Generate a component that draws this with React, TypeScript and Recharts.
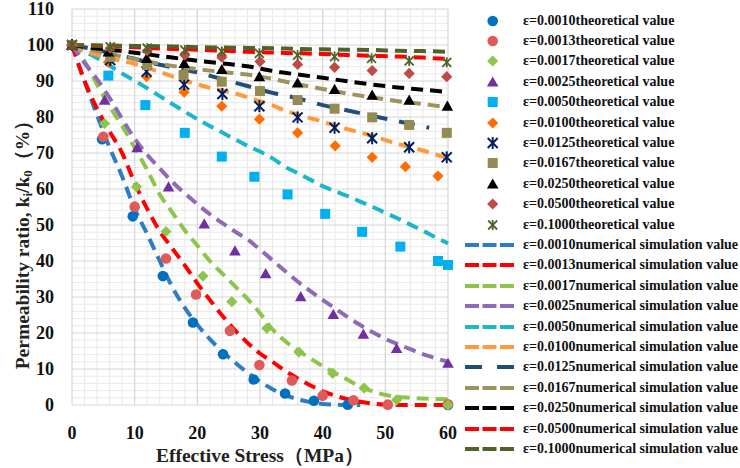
import React from 'react';
import { CartesianGrid, ComposedChart, Line, Scatter, XAxis, YAxis } from 'recharts';

const FONT = 'Liberation Serif';

const xTicks = [0, 10, 20, 30, 40, 50, 60];
const yTicks = [0, 10, 20, 30, 40, 50, 60, 70, 80, 90, 100, 110];
const minorX = [2, 4, 6, 8, 12, 14, 16, 18, 22, 24, 26, 28, 32, 34, 36, 38, 42, 44, 46, 48, 52, 54, 56, 58];
const minorY = [
  2, 4, 6, 8, 12, 14, 16, 18, 22, 24, 26, 28, 32, 34, 36, 38, 42, 44, 46, 48, 52, 54, 56, 58,
  62, 64, 66, 68, 72, 74, 76, 78, 82, 84, 86, 88, 92, 94, 96, 98, 102, 104, 106, 108,
];

const strains = ['0.0010', '0.0013', '0.0017', '0.0025', '0.0050', '0.0100', '0.0125', '0.0167', '0.0250', '0.0500', '0.1000'];

// theoretical values (markers)
const t0010X = [0, 4.8, 9.7, 14.5, 19.3, 24.1, 29.0, 34.0, 38.6, 44.0, 60];
const t0010Y = [100, 73.8, 52.4, 35.8, 22.9, 14.1, 7.1, 3.2, 1.2, 0.1, 0];
const t0013X = [0, 5.0, 10.0, 15.0, 19.8, 25.2, 29.9, 35.1, 40.0, 44.9, 50.4, 60];
const t0013Y = [100, 74.5, 55.1, 40.7, 30.7, 20.6, 11.1, 6.8, 2.6, 1.3, 0.1, 0.2];
const t0017X = [0, 5.2, 10.3, 15.0, 20.9, 25.5, 31.1, 36.2, 41.6, 46.6, 51.8, 60];
const t0017Y = [100, 78.2, 60.6, 48.2, 35.8, 28.7, 21.3, 14.7, 8.8, 4.7, 1.4, 0];
const t0025X = [0, 5.2, 10.4, 15.4, 21.1, 26.0, 30.9, 36.5, 41.7, 46.5, 51.8, 60];
const t0025Y = [100, 84.7, 71.5, 60.6, 50.3, 42.8, 36.5, 30.1, 25.2, 19.7, 15.7, 11.6];
const t0050X = [0, 5.8, 11.7, 18.0, 23.9, 29.1, 34.4, 40.4, 46.3, 52.4, 58.4, 60];
const t0050Y = [100, 91.5, 83.3, 75.6, 69.0, 63.4, 58.5, 53.1, 48.1, 44.0, 40.0, 38.9];
const t0100X = [0, 5.8, 11.9, 17.9, 23.9, 29.9, 36.0, 42.0, 47.9, 53.2, 58.4];
const t0100Y = [100, 95.2, 91.2, 86.9, 83.0, 79.4, 75.6, 72.0, 68.8, 66.2, 63.6];
const t0125X = [0, 6.1, 11.9, 17.9, 24.0, 29.9, 36.0, 41.9, 47.9, 53.8, 59.8];
const t0125Y = [100, 95.8, 92.6, 89.0, 86.4, 83.0, 79.9, 77.0, 74.1, 71.6, 68.8];
const t0167X = [0, 6.1, 12.0, 17.8, 23.9, 30.0, 36.0, 41.9, 47.9, 53.8, 59.8];
const t0167Y = [100, 96.7, 94.4, 91.7, 89.8, 87.2, 84.7, 82.3, 79.9, 77.8, 75.6];
const t0250X = [0, 5.8, 11.9, 17.9, 23.9, 29.9, 36.0, 41.9, 47.9, 53.8, 59.9];
const t0250Y = [100, 98.1, 96.3, 94.9, 93.2, 91.2, 89.5, 87.7, 86.1, 84.7, 83.0];
const t0500X = [0, 6.1, 12.0, 18.0, 23.9, 30.0, 36.0, 41.9, 47.9, 53.8, 59.8];
const t0500Y = [100, 99.1, 98.4, 97.2, 96.6, 95.4, 94.6, 93.8, 92.9, 92.1, 91.2];
const t1000X = [0, 6.1, 12.0, 18.0, 23.9, 29.9, 36.0, 41.9, 47.8, 53.8, 59.8];
const t1000Y = [100, 99.5, 99.1, 98.6, 98.2, 97.7, 97.2, 96.8, 96.3, 95.6, 95.2];

// numerical simulation values (dashed curves)
const simX2 = [0, 2, 4, 6, 8, 10, 12, 14, 16, 18, 20, 22, 24, 26, 28, 30, 32, 34, 36, 38, 40, 42, 44, 46, 48, 50, 52, 54, 56, 58, 60];
const simX4 = [0, 4, 8, 12, 16, 20, 24, 28, 32, 36, 40, 44, 48, 52, 56, 60];
const s0010Y = [100, 90, 80.5, 71.5, 63.5, 54.5, 47.5, 40, 32.8, 27, 22.3, 18.3, 14.8, 11.8, 9, 6.5, 4.4, 2.8, 1.6, 0.8, 0.3, 0.1, 0, 0];
const s0013Y = [100, 90, 82.3, 76, 70, 61.7, 54.5, 48.3, 43.5, 38.8, 33.8, 29.2, 24.8, 20.8, 17.3, 14.3, 12, 9.5, 7.4, 5.5, 3.8, 2.6, 1.6, 0.9, 0.4, 0.1, 0, 0, 0, 0, 0];
const s0017Y = [100, 95.5, 89, 83, 77.5, 71.5, 65.3, 58.5, 53.5, 48.5, 44.3, 40, 36.5, 33, 29.5, 25.5, 21, 17.8, 15.2, 13, 10.8, 8.9, 7, 5.1, 3.8, 2.8, 2.2, 2, 1.8, 1.7, 1.6];
const s0025Y = [100, 95, 90.5, 85.3, 79.5, 74, 69.5, 65.7, 62, 58.8, 55.8, 53, 50.5, 48.2, 46, 43.2, 40.2, 37.2, 34.3, 31.7, 29.2, 26.8, 24.4, 22.2, 20.2, 18.4, 16.9, 15.5, 14.1, 13, 12];
const s0050Y = [100, 98.2, 96.4, 94.3, 92.1, 90.1, 88, 85.8, 83.6, 81.5, 79.4, 77.5, 75.7, 73.8, 72, 70.4, 68.5, 66.2, 64.4, 62.6, 60.8, 59.4, 58, 56.5, 55, 53.4, 51.8, 50.1, 48.4, 46.6, 44.9];
const s0100Y = [100, 98.5, 97.3, 96.3, 95.6, 94.8, 93.7, 92.5, 91.3, 90.1, 89.1, 88.1, 87.3, 86.5, 85.5, 84.4, 83.2, 81.8, 80.7, 79.7, 78.7, 77.6, 76.6, 75.7, 74.7, 73.6, 72.5, 71.6, 70.7, 69.6, 68.5];
const s0125X = [0, 4, 8, 12, 16, 20, 24, 28, 32, 36, 40, 44, 48, 52, 56, 57];
const s0125Y = [100, 98.6, 97, 95.3, 93.8, 92.4, 90.5, 88.6, 86.7, 85.2, 83.3, 81.8, 80.3, 78.8, 77.4, 77];
const s0167Y = [100, 98.3, 96.8, 95.4, 94.2, 93.3, 92.5, 91.8, 90.6, 89.1, 87.8, 86.5, 85.4, 84.4, 83.6, 82.7];
const s0250Y = [100, 99, 98.3, 97.4, 96.5, 95.6, 94.9, 94.1, 92.8, 91.8, 90.9, 89.9, 89, 88.2, 87.6, 86.9];
const s0500Y = [100, 99.7, 99.5, 99.2, 98.9, 98.7, 98.4, 98.1, 97.9, 97.7, 97.5, 97.2, 97, 96.8, 96.5, 96.1];
const s1000Y = [100, 99.9, 99.8, 99.7, 99.6, 99.4, 99.3, 99.2, 99.1, 98.9, 98.8, 98.7, 98.6, 98.4, 98.3, 98.1];

const markerColors = ['#0070C0', '#E15A5A', '#8DC54B', '#7030A0', '#00B0F0', '#FF6D00', '#002060', '#948A54', '#000000', '#BE4B48', '#4F6228'];
const markerKinds = ['circle', 'circle', 'diamond', 'triangle', 'square', 'diamond', 'star', 'square', 'triangle', 'diamond', 'cross'];
const lineColors = ['#2E7DC4', '#FF0000', '#8DC54B', '#8E6AB8', '#1AB6CC', '#FF9A3C', '#1F4E79', '#9D9260', '#000000', '#FF0000', '#4F6228'];

const pairs = (xs: number[], ys: number[]) => ys.map((y, i) => ({ x: xs[i], y }));

const theoData = [
  pairs(t0010X, t0010Y), pairs(t0013X, t0013Y), pairs(t0017X, t0017Y), pairs(t0025X, t0025Y),
  pairs(t0050X, t0050Y), pairs(t0100X, t0100Y), pairs(t0125X, t0125Y), pairs(t0167X, t0167Y),
  pairs(t0250X, t0250Y), pairs(t0500X, t0500Y), pairs(t1000X, t1000Y),
];
const simData = [
  pairs(simX2, s0010Y), pairs(simX2, s0013Y), pairs(simX2, s0017Y), pairs(simX2, s0025Y),
  pairs(simX2, s0050Y), pairs(simX2, s0100Y), pairs(s0125X, s0125Y), pairs(simX4, s0167Y),
  pairs(simX4, s0250Y), pairs(simX4, s0500Y), pairs(simX4, s1000Y),
];

function Marker({ kind, color, cx, cy }: { kind: string; color: string; cx: number; cy: number }) {
  if (cx == null || cy == null) return null;
  switch (kind) {
    case 'circle':
      return <circle cx={cx} cy={cy} r={5.3} fill={color} />;
    case 'diamond':
      return <polygon points={`${cx},${cy - 5.6} ${cx + 5.6},${cy} ${cx},${cy + 5.6} ${cx - 5.6},${cy}`} fill={color} />;
    case 'triangle':
      return <polygon points={`${cx},${cy - 5.6} ${cx + 5.8},${cy + 4.6} ${cx - 5.8},${cy + 4.6}`} fill={color} />;
    case 'square':
      return <rect x={cx - 5} y={cy - 5} width={10} height={10} fill={color} />;
    case 'star':
      return (
        <g stroke={color} strokeWidth={2}>
          <line x1={cx - 5} y1={cy - 5} x2={cx + 5} y2={cy + 5} />
          <line x1={cx - 5} y1={cy + 5} x2={cx + 5} y2={cy - 5} />
          <line x1={cx} y1={cy - 6} x2={cx} y2={cy + 6} />
        </g>
      );
    default:
      return (
        <g stroke={color} strokeWidth={1.8}>
          <line x1={cx - 4.5} y1={cy - 4.5} x2={cx + 4.5} y2={cy + 4.5} />
          <line x1={cx - 4.5} y1={cy + 4.5} x2={cx + 4.5} y2={cy - 4.5} />
          <line x1={cx} y1={cy - 5} x2={cx} y2={cy + 5} />
        </g>
      );
  }
}

function dashFor(i: number) {
  return i === 6 ? '16 12' : '12 7';
}

function LegendBox() {
  const rowStyle: React.CSSProperties = { height: 20.4, display: 'flex', alignItems: 'center' };
  const textStyle: React.CSSProperties = {
    fontFamily: FONT, fontWeight: 'bold', fontSize: 14, color: '#111', whiteSpace: 'nowrap', marginLeft: 9,
  };
  return (
    <div style={{ position: 'absolute', left: 465, top: 10.5 }}>
      {strains.map((s, i) => (
        <div key={'t' + s} style={rowStyle}>
          <svg width={49} height={20}>
            <Marker kind={markerKinds[i]} color={markerColors[i]} cx={27.7} cy={10} />
          </svg>
          <span style={textStyle}>ε={s}theoretical value</span>
        </div>
      ))}
      {strains.map((s, i) => (
        <div key={'n' + s} style={rowStyle}>
          <svg width={49} height={20}>
            <line x1={0} y1={10} x2={49} y2={10} stroke={lineColors[i]} strokeWidth={4}
              strokeDasharray={i === 6 ? '17 15' : '14 3.5'} />
          </svg>
          <span style={textStyle}>ε={s}numerical simulation value</span>
        </div>
      ))}
    </div>
  );
}

function YLabel() {
  return (
    <text x={22} y={240} transform="rotate(-90 22 240)" textAnchor="middle" dominantBaseline="central"
      fontFamily={FONT} fontWeight="bold" fontSize={19.5} fill="#222">
      Permeability ratio, k<tspan fontSize={13} dy={5}>i</tspan>
      <tspan dy={-5}>/k</tspan><tspan fontSize={13} dy={5}>0</tspan>
      <tspan dy={-5}>（%）</tspan>
    </text>
  );
}

export default function App() {
  const tickStyle = { fontFamily: FONT, fontWeight: 'bold', fontSize: 18, fill: '#111' };
  return (
    <div style={{ position: 'absolute', left: 0, top: 0, width: 740, height: 468, background: '#fff', fontFamily: FONT }}>
      <ComposedChart width={740} height={468} margin={{ top: 9, right: 292, left: 0, bottom: 3 }}
        style={{ fontFamily: FONT }}>
        <CartesianGrid horizontalValues={minorY} verticalValues={minorX} stroke="#e9e9e9" strokeWidth={1} />
        <CartesianGrid stroke="#d6d6d6" strokeWidth={1.2} />
        <XAxis type="number" dataKey="x" domain={[0, 60]} ticks={xTicks} height={60} axisLine={false}
          tickLine={false} tickSize={0} tickMargin={21} tick={tickStyle} interval={0}
          label={{ value: 'Effective Stress（MPa）', position: 'insideBottom', offset: 3,
            style: { fontFamily: FONT, fontWeight: 'bold', fontSize: 19.5, fill: '#222' } }} />
        <YAxis type="number" dataKey="y" domain={[0, 110]} ticks={yTicks} width={72} axisLine={false}
          tickLine={false} tickSize={0} tickMargin={18} tick={tickStyle} interval={0}
          label={<YLabel />} />
        {theoData.map((d, i) => (
          <Scatter key={'sc' + i} data={d} isAnimationActive={false}
            shape={(p: any) => <Marker kind={markerKinds[i]} color={markerColors[i]} cx={p.cx} cy={p.cy} />} />
        ))}
        {simData.map((d, i) => (
          <Line key={'ln' + i} data={d} dataKey="y" type="monotone" stroke={lineColors[i]} strokeWidth={4}
            strokeDasharray={dashFor(i)} dot={false} activeDot={false} isAnimationActive={false} />
        ))}
      </ComposedChart>
      <LegendBox />
    </div>
  );
}
